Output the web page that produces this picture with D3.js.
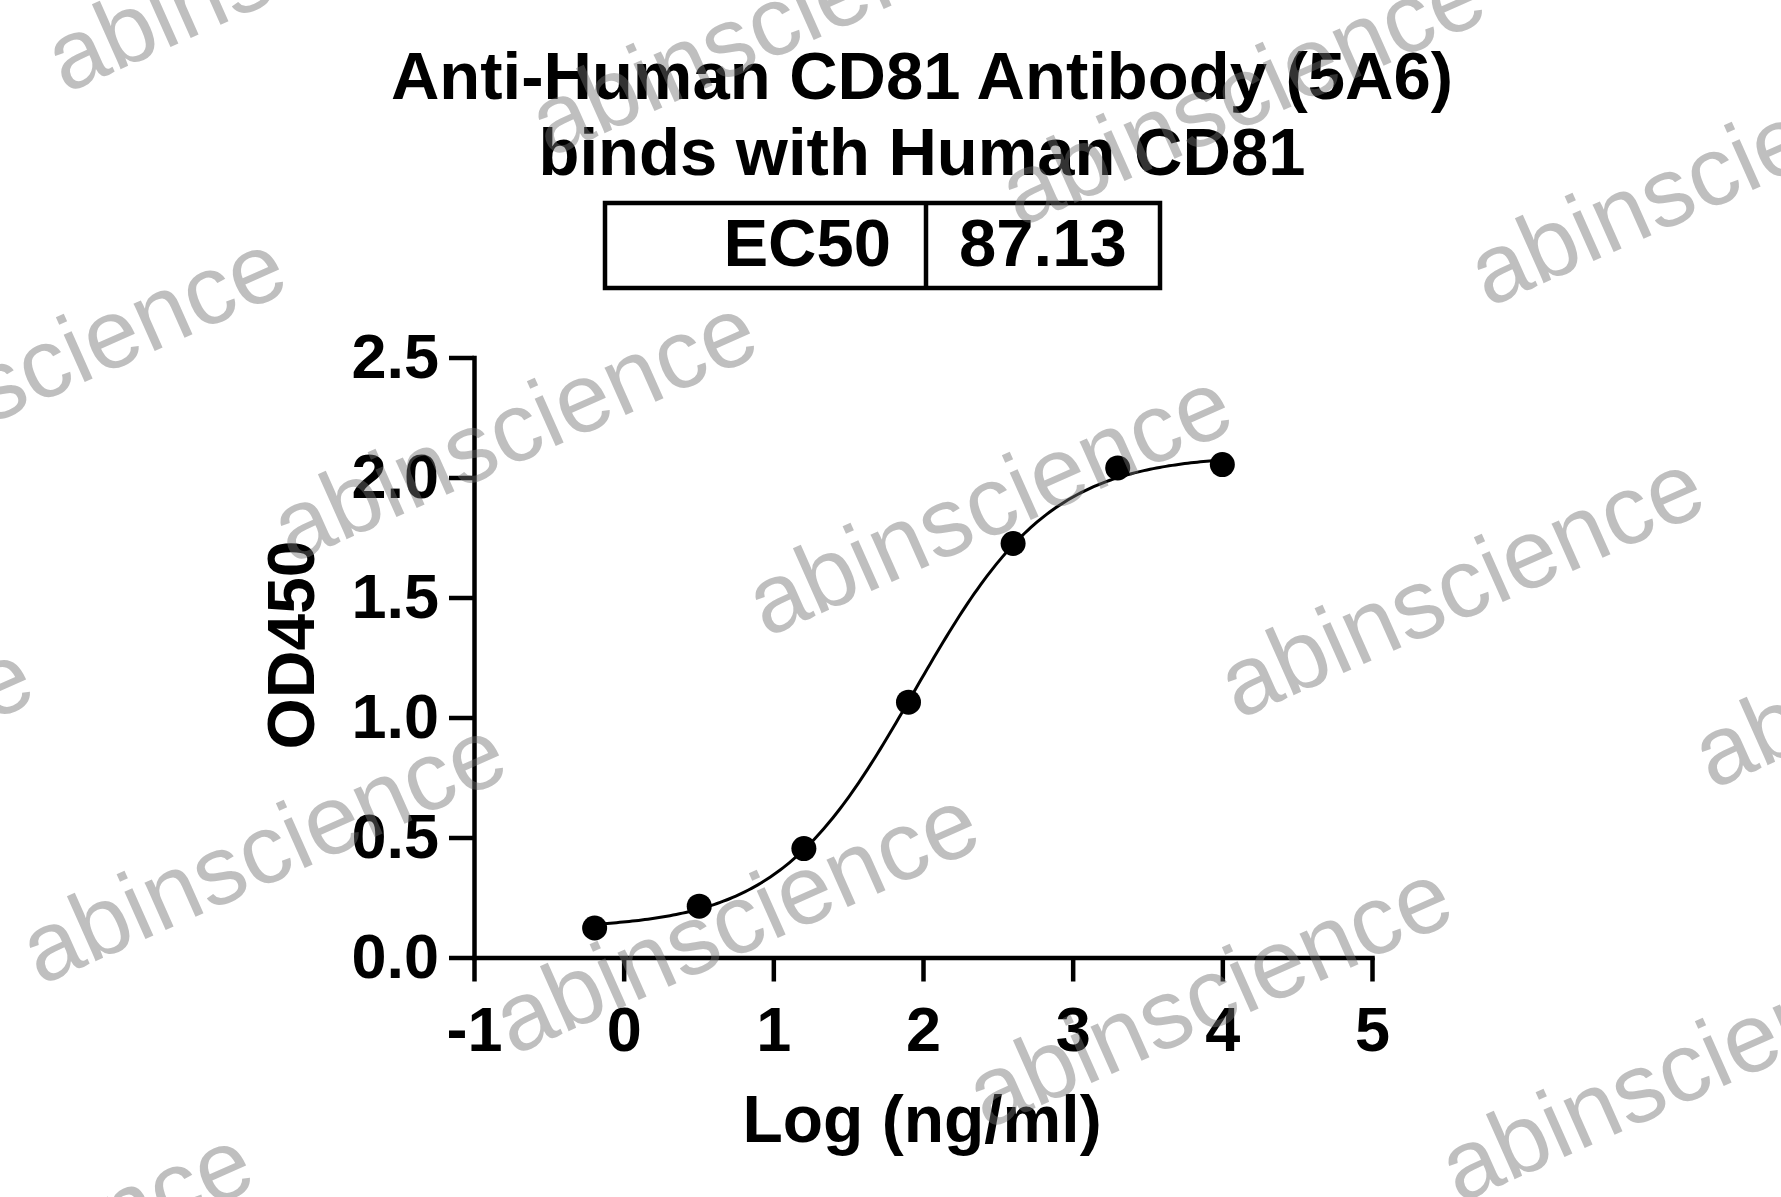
<!DOCTYPE html>
<html>
<head>
<meta charset="utf-8">
<script src="https://cdnjs.cloudflare.com/ajax/libs/d3/7.8.5/d3.min.js"></script>
<style>
  html, body { margin: 0; padding: 0; background: #ffffff; }
  svg { display: block; }
</style>
</head>
<body>
<svg id="chart" width="1781" height="1197"></svg>
<script>
// ---------------- data ----------------
const titleLines = ["Anti-Human CD81 Antibody (5A6)", "binds with Human CD81"];
const ec50Label = "EC50";
const ec50Value = "87.13";
const xLabel = "Log (ng/ml)";
const yLabel = "OD450";

// log10 concentration (ng/ml) and OD450 readings
const logConc = [-0.194, 0.505, 1.204, 1.903, 2.602, 3.301, 4.0];
const od450   = [0.123, 0.214, 0.454, 1.064, 1.725, 2.040, 2.054];

// 4-parameter logistic fit
const fitBottom = 0.12;
const fitTop = 2.095;
const fitLogEC50 = Math.log10(87.13);
const fitHill = 0.95;

const xTicks = [-1, 0, 1, 2, 3, 4, 5];
const yTicks = [0, 0.5, 1.0, 1.5, 2.0, 2.5];
const xDomain = [-1, 5];
const yDomain = [0, 2.5];

const watermarkText = "abinscience";

// ---------------- layout ----------------
const W = 1781, H = 1197;
const svg = d3.select("#chart");
svg.append("rect").attr("width", W).attr("height", H).attr("fill", "#ffffff");

const font = "'Liberation Sans', Arial, Helvetica, sans-serif";
const x = d3.scaleLinear().domain(xDomain).range([474, 1372]);
const y = d3.scaleLinear().domain(yDomain).range([957.5, 357.5]);
const axisW = 4.5;

// title
svg.append("g").selectAll("text").data(titleLines).join("text")
  .attr("x", 922)
  .attr("y", (d, i) => 99 + i * 76)
  .attr("text-anchor", "middle")
  .attr("font-family", font)
  .attr("font-weight", "bold")
  .attr("font-size", 67)
  .attr("fill", "#000")
  .text(d => d);

// EC50 table
const box = svg.append("g");
box.append("rect")
  .attr("x", 605).attr("y", 203).attr("width", 555).attr("height", 85)
  .attr("fill", "none").attr("stroke", "#000").attr("stroke-width", 4.5);
box.append("line")
  .attr("x1", 926).attr("x2", 926).attr("y1", 203).attr("y2", 288)
  .attr("stroke", "#000").attr("stroke-width", 4.5);
box.append("text")
  .attr("x", 891).attr("y", 266)
  .attr("text-anchor", "end")
  .attr("font-family", font).attr("font-weight", "bold").attr("font-size", 67)
  .text(ec50Label);
box.append("text")
  .attr("x", 959).attr("y", 266)
  .attr("text-anchor", "start")
  .attr("font-family", font).attr("font-weight", "bold").attr("font-size", 67)
  .text(ec50Value);

// axes
const yAxis = d3.axisLeft(y)
  .tickValues(yTicks)
  .tickFormat(d3.format(".1f"))
  .tickSize(25)
  .tickSizeOuter(0)
  .tickPadding(10);
const xAxis = d3.axisBottom(x)
  .tickValues(xTicks)
  .tickFormat(d => String(d))
  .tickSize(24)
  .tickSizeOuter(0)
  .tickPadding(25);

function styleAxis(g) {
  g.select(".domain").attr("stroke", "#000").attr("stroke-width", axisW).attr("stroke-linecap", "square");
  g.selectAll(".tick line").attr("stroke", "#000").attr("stroke-width", axisW);
  g.selectAll(".tick text")
    .attr("fill", "#000")
    .attr("font-family", font)
    .attr("font-weight", "bold")
    .attr("font-size", 63);
  g.attr("font-family", null).attr("font-size", null);
}

svg.append("g")
  .attr("transform", `translate(${x(xDomain[0])},0)`)
  .call(yAxis)
  .call(styleAxis);

svg.append("g")
  .attr("transform", `translate(0,${y(0)})`)
  .call(xAxis)
  .call(styleAxis);

// axis titles
svg.append("text")
  .attr("transform", "translate(314,645) rotate(-90)")
  .attr("text-anchor", "middle")
  .attr("font-family", font).attr("font-weight", "bold").attr("font-size", 66)
  .text(yLabel);
svg.append("text")
  .attr("x", 922).attr("y", 1142)
  .attr("text-anchor", "middle")
  .attr("font-family", font).attr("font-weight", "bold").attr("font-size", 66)
  .text(xLabel);

// fitted curve
const fourPL = v => fitBottom + (fitTop - fitBottom) / (1 + Math.pow(10, (fitLogEC50 - v) * fitHill));
const xs = d3.range(0, 201).map(i => logConc[0] + (logConc[logConc.length - 1] - logConc[0]) * i / 200);
const line = d3.line().x(d => x(d)).y(d => y(fourPL(d))).curve(d3.curveLinear);
svg.append("path")
  .datum(xs)
  .attr("d", line)
  .attr("fill", "none")
  .attr("stroke", "#000")
  .attr("stroke-width", 3);

// points
svg.append("g").selectAll("circle").data(logConc).join("circle")
  .attr("cx", d => x(d))
  .attr("cy", (d, i) => y(od450[i]))
  .attr("r", 12.5)
  .attr("fill", "#000");

// watermark overlay (tiled)
const wmStarts = [
  [65, 94], [549, 158], [1019, 228], [1488, 308],
  [-180, 500], [291, 564], [766, 638], [1238, 720], [1712, 790],
  [-433, 910], [40, 986], [513, 1056], [986, 1130], [1459, 1204],
  [-213, 1396]
];
svg.append("g")
  .attr("pointer-events", "none")
  .selectAll("text").data(wmStarts).join("text")
  .attr("transform", d => `translate(${d[0]},${d[1]}) rotate(-24)`)
  .attr("font-family", font)
  .attr("font-size", 98)
  .attr("fill", "#707070")
  .attr("fill-opacity", 0.45)
  .text(watermarkText);
</script>
</body>
</html>
